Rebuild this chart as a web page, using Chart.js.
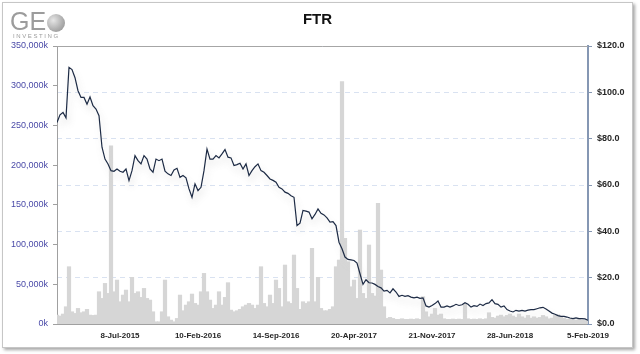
<!DOCTYPE html>
<html>
<head>
<meta charset="utf-8">
<title>FTR</title>
<script src="https://cdn.jsdelivr.net/npm/chart.js@4.4.0/dist/chart.umd.min.js"></script>
<style>
  html, body { margin: 0; padding: 0; background: #fff; }
  #frame {
    position: absolute; left: 2px; top: 2px; width: 629px; height: 344px;
    border: 1px solid #c6c6c6; box-shadow: 2px 2px 3px rgba(0,0,0,0.35); background: #fff;
  }
  #logo { position: absolute; left: 7px; top: 6px; width: 60px; height: 32px; color: #9c9c9c; font-family: "Liberation Sans", Arial, sans-serif; }
  #logo .ge { position: absolute; left: 0; top: 0; font-size: 25px; line-height: 25px; }
  #logo .globe {
    position: absolute; left: 37px; top: 5px; width: 18px; height: 18px; border-radius: 50%;
    background: radial-gradient(circle at 35% 35%, #e6e6e6 0%, #b0b0b0 55%, #8a8a8a 100%);
  }
  #logo .inv { position: absolute; left: 3px; top: 24px; font-size: 6px; letter-spacing: 1.6px; }
  canvas { position: absolute; left: 0; top: 0; }
</style>
</head>
<body>
<div id="frame">
  <canvas id="chart" width="629" height="344"></canvas>
  <div id="logo"><span class="ge">GE</span><span class="globe"></span><span class="inv">INVESTING</span></div>
</div>
<script>
// cours de clôture ($), un point tous les ~6 jours de bourse
const price = [
  87.0, 90.3, 91.3, 89.0, 110.8, 109.8, 106.3, 100.7, 97.8, 97.8, 94.9, 98.0, 94.2, 92.8, 89.9, 76.3, 71.2, 69.1,
  66.2, 65.9, 66.9, 65.9, 65.5, 66.9, 61.9, 66.2, 72.7, 70.5, 69.1, 72.7, 71.2, 66.9, 65.5, 71.2, 70.5, 71.2,
  66.0, 64.8, 64.1, 66.5, 67.2, 63.3, 64.1, 63.1, 58.3, 54.7, 60.5, 57.6, 59.0, 66.2, 75.5, 71.2, 71.2, 72.7,
  71.7, 73.4, 75.3, 72.0, 71.7, 68.4, 68.8, 69.4, 66.9, 69.1, 64.1, 66.2, 67.9, 69.1, 66.2, 65.5, 64.1, 62.6,
  62.0, 61.2, 59.0, 58.3, 56.9, 56.4, 55.4, 54.7, 42.5, 43.5, 49.0, 48.7, 48.3, 45.4, 47.3, 49.7, 47.8, 47.1,
  45.8, 44.0, 44.2, 42.5, 35.3, 32.5, 28.9, 27.9, 27.7, 27.4, 26.3, 21.7, 17.1, 19.1, 17.8, 17.7, 17.1, 16.2,
  15.6, 14.2, 14.5, 13.4, 15.2, 13.8, 11.9, 12.4, 11.9, 12.2, 11.6, 11.3, 11.6, 11.1, 11.3, 7.8, 7.3, 8.0,
  8.8, 9.9, 7.3, 7.3, 7.8, 7.3, 7.8, 8.5, 8.0, 8.3, 9.2, 8.5, 7.3, 7.9, 7.6, 8.6, 8.0, 8.8,
  9.1, 10.5, 8.8, 8.5, 7.3, 7.8, 6.2, 5.6, 5.2, 5.9, 5.6, 5.9, 5.6, 6.0, 6.2, 6.2, 6.6, 7.0,
  7.2, 6.5, 5.6, 4.7, 4.2, 3.6, 3.3, 3.3, 3.0, 2.6, 2.3, 2.6, 2.3, 2.3, 2.2, 1.6
];

// volume (en milliers)
const volume = [
  10900, 9700, 12200, 21400, 71800, 15100, 13000, 19300, 13900, 15100, 18100, 10900, 10500, 10900, 40300, 31900, 50800, 38200,
  224000, 40300, 55000, 27700, 36100, 42400, 27700, 58400, 38200, 40300, 33200, 44500, 31900, 29800, 15100, 2500, 2500, 15100,
  55000, 8800, 4600, 2500, 6700, 36100, 16400, 23500, 27700, 37400, 25600, 23500, 40300, 63400, 40300, 29800, 19300, 23500,
  40300, 23500, 33200, 51700, 17200, 15100, 16400, 18100, 21400, 23500, 25600, 23500, 19300, 23500, 71800, 25600, 21400, 36100,
  25600, 55000, 44500, 21400, 73900, 27700, 25600, 86500, 44500, 18100, 27700, 25600, 27700, 94900, 27700, 58400, 19300, 16400,
  16400, 18100, 21400, 71800, 80200, 305000, 107500, 78100, 46600, 55000, 31900, 118000, 38200, 31900, 99100, 38200, 34900, 151600,
  67600, 21400, 6700, 8000, 6700, 5500, 5500, 6300, 5500, 5500, 5900, 5500, 6300, 5500, 34000, 15100, 8800, 12200,
  19300, 10900, 12200, 6300, 5500, 5500, 5900, 5500, 5900, 5500, 25600, 6300, 5500, 5900, 5500, 6300, 5500, 6300,
  13900, 8000, 7100, 9700, 10900, 8800, 10500, 12200, 9700, 8000, 12200, 8800, 7100, 10500, 7100, 8800, 7100, 8000,
  10500, 8800, 6300, 7100, 10500, 11300, 8800, 6700, 5500, 6300, 5500, 4600, 5500, 4600, 4200, 3800
];

// étiquettes de l'axe des dates et le point auquel elles correspondent
const tickLabels = ['8-Jul-2015', '10-Feb-2016', '14-Sep-2016', '20-Apr-2017', '21-Nov-2017', '28-Jun-2018', '5-Feb-2019'];
const tickIndex = [21, 47, 73, 99, 125, 151, 177];

const FONT = '"Liberation Sans", Arial, sans-serif';

// ombre claire sous la courbe + bord supérieur de la zone de tracé
const lineShadow = {
    id: 'lineShadow',
    beforeDatasetDraw(chart, args) {
        if (args.meta.type !== 'line') return;
        const ctx = chart.ctx;
        ctx.save();
        ctx.shadowColor = 'rgba(215,215,215,0.9)';
        ctx.shadowBlur = 7;
        ctx.shadowOffsetX = 2;
        ctx.shadowOffsetY = 5;
    },
    afterDatasetDraw(chart, args) {
        if (args.meta.type === 'line') chart.ctx.restore();
    },
    afterDraw(chart) {
        const { ctx, chartArea: a } = chart;
        ctx.save();
        ctx.strokeStyle = '#a6a6a6';
        ctx.lineWidth = 1;
        ctx.beginPath();
        ctx.moveTo(a.left, Math.round(a.top) + 0.5);
        ctx.lineTo(a.right, Math.round(a.top) + 0.5);
        ctx.stroke();
        ctx.restore();
    }
};

const ctx = document.getElementById('chart').getContext('2d');
const ftrChart = new Chart(ctx, {
    type: 'bar',
    data: {
        datasets: [{
            type: 'line',
            label: 'Price',
            data: price.map((v, i) => ({ x: i, y: v })),
            yAxisID: 'yP',
            borderColor: '#1d2b45',
            borderWidth: 1.2,
            pointRadius: 0,
            tension: 0,
            order: 0
        }, {
            type: 'bar',
            label: 'Volume',
            data: volume.map((v, i) => ({ x: i, y: v })),
            yAxisID: 'yV',
            backgroundColor: '#d6d6d6',
            borderWidth: 0,
            inflateAmount: 0.6,
            barPercentage: 1,
            categoryPercentage: 1,
            order: 1
        }]
    },
    options: {
        responsive: false,
        animation: false,
        layout: { padding: 0 },
        plugins: {
            legend: { display: false },
            tooltip: { enabled: false },
            title: {
                display: true,
                text: 'FTR',
                color: '#111',
                font: { family: FONT, size: 15, weight: 'bold' },
                padding: { top: 8, bottom: 17 }
            }
        },
        scales: {
            x: {
                type: 'linear',
                min: 0,
                max: price.length - 1,
                offset: false,
                grid: { display: false, drawTicks: false },
                border: { color: '#a0a0a0' },
                afterBuildTicks(s) { s.ticks = tickIndex.map(v => ({ value: v })); },
                ticks: {
                    autoSkip: false,
                    maxRotation: 0,
                    padding: 7,
                    color: '#262626',
                    font: { family: FONT, size: 8, weight: 'bold' },
                    callback: (v, i) => tickLabels[i]
                },
                afterFit(s) { s.height = 23; }
            },
            yV: {
                position: 'left',
                min: 0,
                max: 350000,
                ticks: {
                    stepSize: 50000,
                    padding: 5,
                    color: '#4a4aa8',
                    font: { family: FONT, size: 9 },
                    callback: v => v.toLocaleString('en-US') + 'k'
                },
                grid: { drawOnChartArea: false, tickLength: 4, color: '#a0a0a0' },
                border: { color: '#a0a0a0', width: 1 },
                afterFit(s) { s.width = 54; }
            },
            yP: {
                position: 'right',
                min: 0,
                max: 120,
                ticks: {
                    stepSize: 20,
                    padding: 5,
                    color: '#262626',
                    font: { family: FONT, size: 9, weight: 'bold' },
                    callback: v => '$' + v.toFixed(1)
                },
                grid: { color: '#d9e2f1', tickColor: '#8597b3', tickLength: 4 },
                border: { color: '#8597b3', width: 2, dash: [5, 4] },
                afterFit(s) { s.width = 44; }
            }
        }
    },
    plugins: [lineShadow]
});
</script>
</body>
</html>
